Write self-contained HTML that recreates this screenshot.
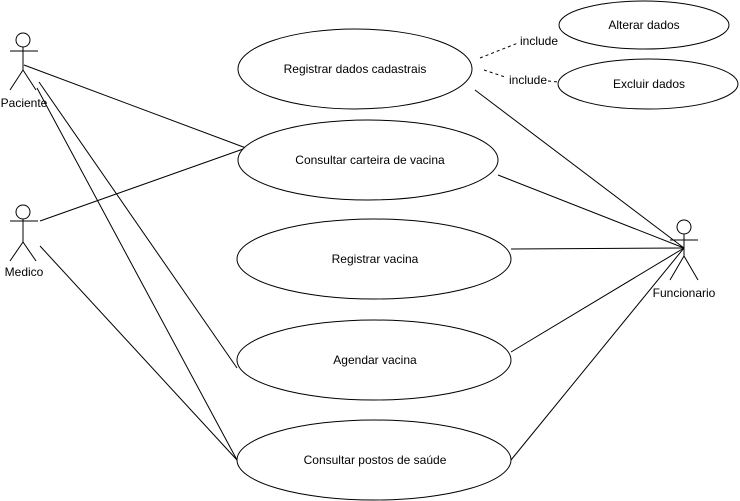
<!DOCTYPE html>
<html><head><style>body{margin:0;background:#fff}svg{display:block}text{font-family:"Liberation Sans",sans-serif;font-size:12px;fill:#000}</style></head>
<body><svg width="740" height="501" viewBox="0 0 740 501">
<g stroke="#000" fill="none" stroke-width="1">
<line x1="24" y1="65" x2="246" y2="148"/>
<line x1="39" y1="82" x2="237" y2="368"/>
<line x1="37" y1="88" x2="237" y2="460"/>
<line x1="40" y1="221" x2="246" y2="148"/>
<line x1="40" y1="246" x2="237" y2="460"/>
<line x1="475" y1="90" x2="684" y2="248"/>
<line x1="498" y1="175" x2="684" y2="248"/>
<line x1="511" y1="249" x2="684" y2="248"/>
<line x1="511" y1="352" x2="684" y2="248"/>
<line x1="511" y1="460" x2="684" y2="248"/>
<line x1="480" y1="58" x2="518" y2="43" stroke-dasharray="3,3"/>
<line x1="484" y1="70" x2="505" y2="77" stroke-dasharray="3,3"/>
<line x1="548" y1="81" x2="558" y2="82" stroke-dasharray="3,3"/>
<g fill="#fff">
<ellipse cx="355" cy="69" rx="117" ry="40"/>
<ellipse cx="644" cy="25" rx="85" ry="24"/>
<ellipse cx="648" cy="84" rx="90" ry="25"/>
<ellipse cx="368" cy="160" rx="130" ry="40"/>
<ellipse cx="374" cy="259" rx="137" ry="40"/>
<ellipse cx="374" cy="360" rx="137" ry="40"/>
<ellipse cx="374" cy="460" rx="137" ry="40"/>
<circle cx="23" cy="40" r="7"/>
<circle cx="23" cy="212" r="7"/>
<circle cx="684" cy="227" r="7"/>
</g>
<path d="M23 47V70M10 51H38M10 90L23 70L36 90"/>
<path d="M23 219V242M10 221H38M10 261L23 242L36 261"/>
<path d="M684 234V256M670 240H698M670 280L684 256L698 280"/>
</g>
<g text-anchor="middle">
<text x="355" y="73">Registrar dados cadastrais</text>
<text x="644" y="29">Alterar dados</text>
<text x="649" y="88">Excluir dados</text>
<text x="370" y="164">Consultar carteira de vacina</text>
<text x="375" y="263">Registrar vacina</text>
<text x="375" y="364">Agendar vacina</text>
<text x="375" y="464">Consultar postos de saúde</text>
<text x="24" y="107">Paciente</text>
<text x="24" y="276">Medico</text>
<text x="684" y="297">Funcionario</text>
<text x="539" y="45">include</text>
<text x="528" y="84">include</text>
</g>
</svg></body></html>
